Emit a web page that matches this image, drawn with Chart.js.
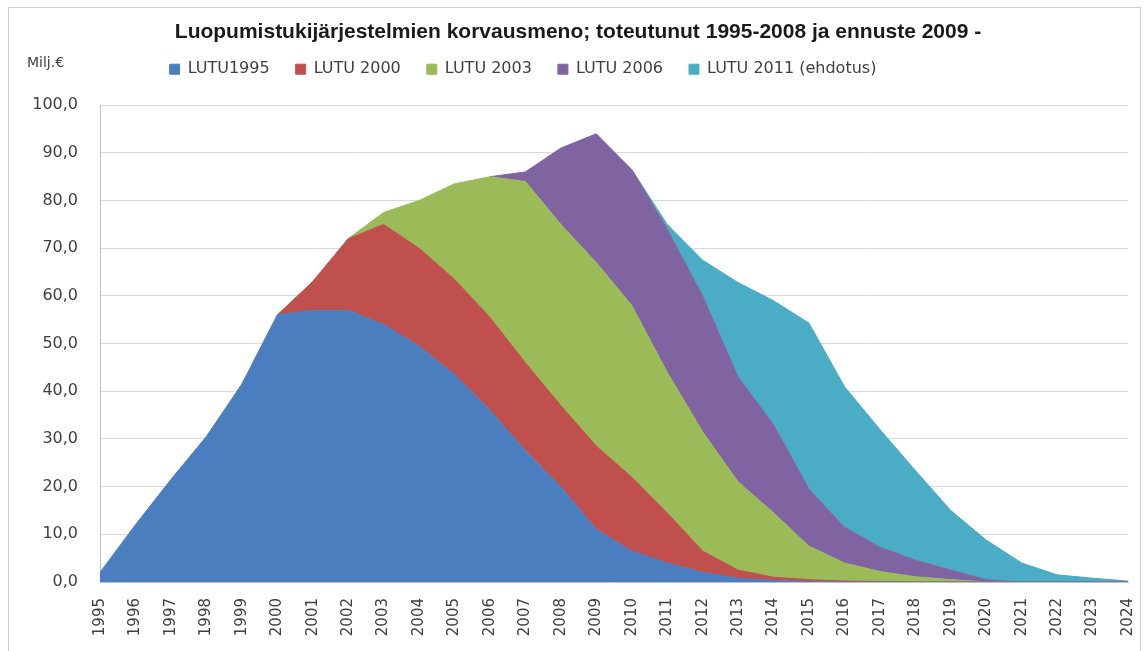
<!DOCTYPE html>
<html>
<head>
<meta charset="utf-8">
<script src="https://cdn.jsdelivr.net/npm/chart.js@4.4.0/dist/chart.umd.min.js"></script>
<style>
body { margin: 0; background: #fff; }
#wrap { position: relative; width: 1146px; height: 651px; overflow: hidden; }
#kehys { position: absolute; left: 8px; top: 7px; width: 1131px; height: 660px; border: 1px solid #cfcfcf; }
#yksikko { position: absolute; left: 27px; top: 54px; font: 14px "DejaVu Sans"; color: #404040; }
canvas { position: absolute; left: 0; top: 0; }
</style>
</head>
<body>
<div id="wrap">
  <div id="kehys"></div>
  <canvas id="korvausmeno" width="1146" height="651"></canvas>
  <div id="yksikko">Milj.€</div>
</div>
<script>
// vuodet ja sarjat (milj. €), luettu kuvasta
var vuodet = ["1995","1996","1997","1998","1999","2000","2001","2002","2003","2004",
    "2005","2006","2007","2008","2009","2010","2011","2012","2013","2014",
    "2015","2016","2017","2018","2019","2020","2021","2022","2023","2024"];

var lutu1995 = [2, 12, 21.5, 30.5, 41.5, 56, 57, 57, 54, 49.5,
    43.5, 36, 27.5, 20, 11, 6.5, 4, 2, 0.8, 0.3,
    0.1, 0, 0, 0, 0, 0, 0, 0, 0, 0];
var lutu2000 = [null, null, null, null, null, 0, 6, 15, 21, 20.5,
    20, 19.5, 18.5, 17, 17.5, 15.5, 10.5, 4.5, 1.7, 0.7,
    0.4, 0.2, 0.1, 0, 0, 0, 0, 0, 0, 0];
var lutu2003 = [null, null, null, null, null, null, null, 0, 2.5, 10,
    20, 29.5, 38, 38, 38.5, 36, 29.5, 25, 18.5, 13.5,
    7, 3.8, 2.1, 1.1, 0.5, 0, 0, 0, 0, 0];
var lutu2006 = [null, null, null, null, null, null, null, null, null, null,
    null, 0, 2, 16, 27, 28.5, 30, 28.5, 22, 18.5,
    12, 7.5, 5.1, 3.5, 2, 0.5, 0, 0, 0, 0];
var lutu2011 = [null, null, null, null, null, null, null, null, null, null,
    null, null, null, null, null, 0, 1, 7.5, 19.8, 26,
    34.8, 29.5, 24.7, 18.8, 12.5, 8.3, 4, 1.5, 0.8, 0.2];

var nimet = ["LUTU1995", "LUTU 2000", "LUTU 2003", "LUTU 2006", "LUTU 2011 (ehdotus)"];
var sarjat = [lutu1995, lutu2000, lutu2003, lutu2006, lutu2011];
var varit = ["#4a7ebf", "#c0504d", "#9bbb59", "#8064a2", "#4bacc6"];

var datasets = [];
for (var i = 0; i < sarjat.length; i++) {
    datasets.push({
        label: nimet[i],
        data: sarjat[i],
        backgroundColor: varit[i],
        borderColor: varit[i],
        borderWidth: 1,
        pointRadius: 0,
        tension: 0,
        fill: i == 0 ? 'origin' : '-1'
    });
}

// selitteen ja otsikon sijainnin hienosäätö
var selitevali = {
    id: 'selitevali',
    beforeInit: function(chart) {
        var fit = chart.legend.fit;
        chart.legend.fit = function() {
            fit.bind(chart.legend)();
            this.height += 18;
        };
    },
    afterLayout: function(chart) {
        chart.legend.left -= 46;
        chart.legend.right -= 46;
        chart.titleBlock.left += 9;
        chart.titleBlock.right += 9;
    }
};

var ctx = document.getElementById("korvausmeno");

var config = {
    type: 'line',
    data: {
        labels: vuodet,
        datasets: datasets
    },
    options: {
        responsive: false,
        animation: false,
        layout: {
            padding: { left: 10, right: 18, top: 0, bottom: 10 }
        },
        plugins: {
            title: {
                display: true,
                text: 'Luopumistukijärjestelmien korvausmeno; toteutunut 1995-2008 ja ennuste 2009 -',
                color: '#1a1a1a',
                font: { family: 'Liberation Sans', size: 21, weight: 'bold' },
                padding: { top: 19.5, bottom: -9.5 }
            },
            legend: {
                display: true,
                position: 'top',
                labels: {
                    boxWidth: 10,
                    boxHeight: 10,
                    padding: 26,
                    color: '#404040',
                    font: { family: 'DejaVu Sans', size: 16 }
                }
            },
            tooltip: { enabled: false }
        },
        scales: {
            x: {
                offset: false,
                grid: { display: false },
                border: { color: '#bfbfbf' },
                ticks: {
                    autoSkip: false,
                    minRotation: 90,
                    maxRotation: 90,
                    padding: 8,
                    color: '#404040',
                    font: { family: 'DejaVu Sans', size: 15 }
                },
                afterFit: function(scale) {
                    scale.height = 59;
                    scale.paddingLeft = 0;
                    scale.paddingRight = 0;
                }
            },
            y: {
                stacked: true,
                min: 0,
                max: 100,
                grid: { color: '#d9d9d9', drawTicks: false },
                border: { color: '#bfbfbf' },
                ticks: {
                    stepSize: 10,
                    padding: 22,
                    color: '#404040',
                    font: { family: 'DejaVu Sans', size: 16 },
                    callback: function(value) {
                        return value.toFixed(1).replace('.', ',');
                    }
                },
                afterFit: function(scale) { scale.width = 90; }
            }
        }
    },
    plugins: [selitevali]
};

var chart = new Chart(ctx, config);
</script>
</body>
</html>
